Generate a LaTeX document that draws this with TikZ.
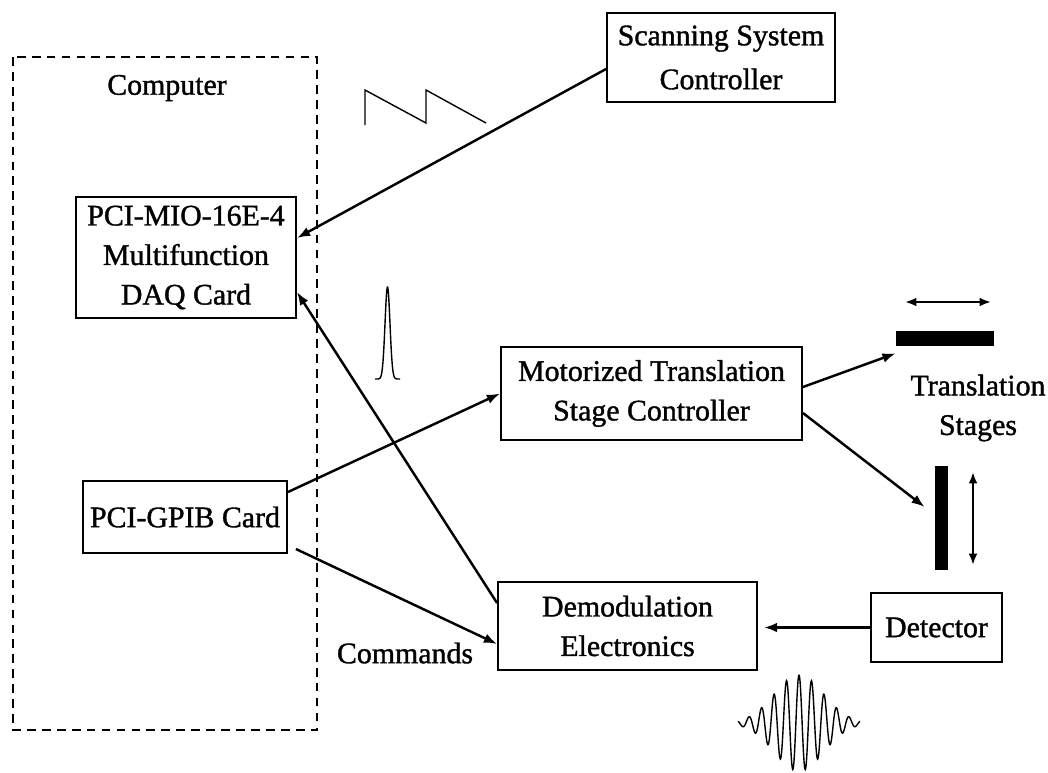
\documentclass[tikz,border=0pt]{standalone}
\usepackage{fontspec}
\setmainfont{Liberation Serif}[FakeBold=1.2]
\usetikzlibrary{arrows.meta}

\begin{document}
\begin{tikzpicture}[x=0.02cm,y=-0.02cm,
	every node/.style={font=\fontsize{17}{22.5}\selectfont},
	box/.style={draw,line width=1.1pt,align=center,inner sep=0pt},
	bar/.style={fill=black,inner sep=0pt},
	arr/.style={line width=1.4pt,-{Latex[length=7.5pt,width=5.5pt]}},
	dbl/.style={line width=1.2pt,{Latex[length=6.5pt,width=5pt]}-{Latex[length=6.5pt,width=5pt]}},
	wave/.style={line width=0.8pt}]
	\useasboundingbox (0,0) rectangle (1048,772);
	% computer
	\draw[line width=1.6pt,dash pattern=on 5pt off 3.5pt] (13,57) rectangle (317,730);
	\node (comp) at (167,88) {Computer};
	\node[box,minimum width=4.4cm,minimum height=2.42cm] (mio) at (186,257.5) {PCI-MIO-16E-4\\Multifunction\\DAQ Card};
	\node[box,minimum width=4.08cm,minimum height=1.44cm] (gpib) at (185,517) {PCI-GPIB Card};
	% instruments
	\node[box,minimum width=4.56cm,minimum height=1.78cm,font=\fontsize{17}{25}\selectfont] (scan) at (721,57.5) {Scanning System\\Controller};
	\node[box,minimum width=6.02cm,minimum height=1.86cm] (motor) at (651.5,393.5) {Motorized Translation\\Stage Controller};
	\node[box,minimum width=5.18cm,minimum height=1.76cm] (demod) at (627.5,626) {Demodulation\\Electronics};
	\node[box,minimum width=2.62cm,minimum height=1.38cm] (det) at (936.5,627.5) {Detector};
	\node (cmd) at (405,653) {Commands};
	% stages
	\node[bar,minimum width=1.96cm,minimum height=0.3cm] (hbar) at (945,338.5) {};
	\node[bar,minimum width=0.26cm,minimum height=2.08cm] (vbar) at (941.5,518) {};
	\node[align=center] (stages) at (978,408) {Translation\\Stages};
	\coordinate (hl) at (905,302);
	\coordinate (hr) at (991,302);
	\coordinate (vt) at (973,472);
	\coordinate (vb) at (973,565);
	\draw[dbl] (hl) -- (hr);
	\draw[dbl] (vt) -- (vb);
	% links
	\draw[arr] ([yshift=-0.23cm]scan.west) -- ([yshift=0.39cm]mio.east);
	\draw[arr] ([yshift=0.46cm]demod.west) -- ([yshift=-0.69cm]mio.east);
	\draw[arr] ([yshift=0.5cm]gpib.east) -- (motor.west);
	\draw[arr] ([shift={(0.16cm,-0.64cm)}]gpib.east) -- ([yshift=-0.36cm]demod.west);
	\draw[arr] ([yshift=0.13cm]motor.east) -- ([yshift=-0.14cm]hbar.south west);
	\draw[arr] ([yshift=-0.39cm]motor.east) -- ([shift={(-0.2cm,0.22cm)}]vbar.west);
	\draw[arr] (det.west) -- ([xshift=0.12cm]demod.east |- det.west);
	% signals
	\draw[wave] (365,125) -- (365,90) -- (426,123) -- (426,90) -- (486,123);
	\draw[wave] plot[domain=-12.5:12.5,samples=80,smooth] ({387.5+\x},{379-92*exp(-\x*\x/12.25)});
	\draw[wave] plot[domain=-61:61,samples=300,smooth] ({799+\x},{723-48*exp(-\x*\x/1225)*cos(28.8*\x)});
\end{tikzpicture}
\end{document}
